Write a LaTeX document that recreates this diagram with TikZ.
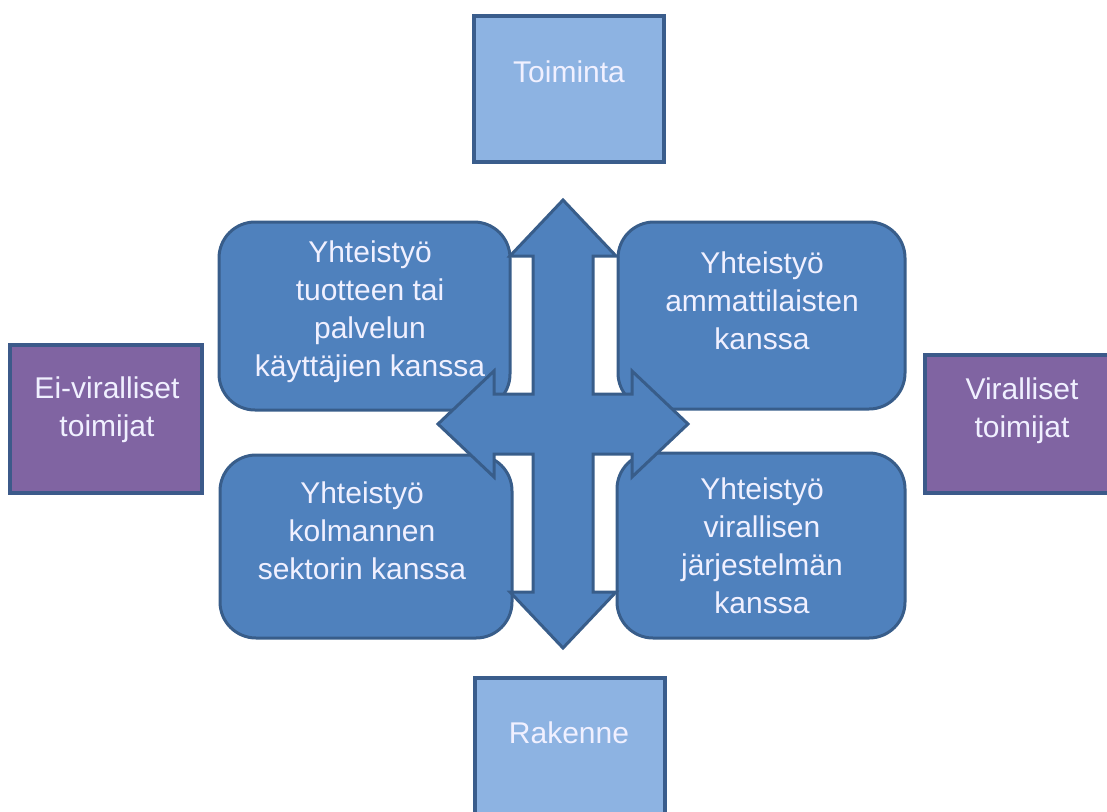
\documentclass[tikz,border=0pt]{standalone}
\usepackage{fontspec}
\setmainfont{Liberation Sans}
\begin{document}
\begin{tikzpicture}[x=1pt,y=-1pt,
  lbl/.style={text=white!94!blue, font=\fontsize{30}{38}\selectfont, align=center, inner sep=0pt},
  coop/.style={draw=coopEdge, fill=coopFill, line width=3pt, rounded corners=36pt},
  axis/.style={draw=axisEdge, fill=axisFill, line width=4.5pt},
  actor/.style={draw=actorEdge, fill=actorFill, line width=4.5pt},
]
\definecolor{coopFill}{HTML}{4F81BD}
\definecolor{coopEdge}{HTML}{385D8A}
\definecolor{axisFill}{HTML}{8DB3E2}
\definecolor{axisEdge}{HTML}{3A5D8C}
\definecolor{actorFill}{HTML}{8064A2}
\definecolor{actorEdge}{HTML}{3C5A8A}
\useasboundingbox (0,0) rectangle (1107,811);
\clip (0,0) rectangle (1107,811);

% top and bottom axis boxes
\draw[axis] (474,16) rectangle (664,162);
\node[lbl] (toiminta) at (569,72) {Toiminta};
\draw[axis] (475,678) rectangle (665,840);
\node[lbl] (rakenne) at (569,733) {Rakenne};

% side actor boxes
\draw[actor] (10,345) rectangle (202,493);
\node[lbl] (eivir) at (107,410) {Ei-viralliset\\toimijat};
\draw[actor] (925,355) rectangle (1125,493);
\node[lbl] (vir) at (1022,411) {Viralliset\\toimijat};

% four cooperation boxes
\draw[coop] (219,222) rectangle (510,410);
\draw[coop] (618,222) rectangle (905,409);
\draw[coop] (220,455) rectangle (512,638);
\draw[coop] (617,453) rectangle (905,638);
\node[lbl] (tl) at (370,312) {Yhteistyö\\tuotteen tai\\palvelun\\käyttäjien kanssa};
\node[lbl] (tr) at (762,301) {Yhteistyö\\ammattilaisten\\kanssa};
\node[lbl] (bl) at (362,531) {Yhteistyö\\kolmannen\\sektorin kanssa};
\node[lbl] (br) at (762,546) {Yhteistyö\\virallisen\\järjestelmän\\kanssa};

% four-way arrow in the middle
\draw[draw=coopEdge, fill=coopFill, line width=3pt, line join=miter]
  (563,200) -- (616,256) -- (593,256) -- (593,394) -- (632,394) -- (632,371)
  -- (688,424) -- (632,477) -- (632,454) -- (593,454) -- (593,592) -- (616,592)
  -- (563,648) -- (510,592) -- (533,592) -- (533,454) -- (494,454) -- (494,477)
  -- (438,424) -- (494,371) -- (494,394) -- (533,394) -- (533,256) -- (510,256)
  -- cycle;
\end{tikzpicture}
\end{document}
